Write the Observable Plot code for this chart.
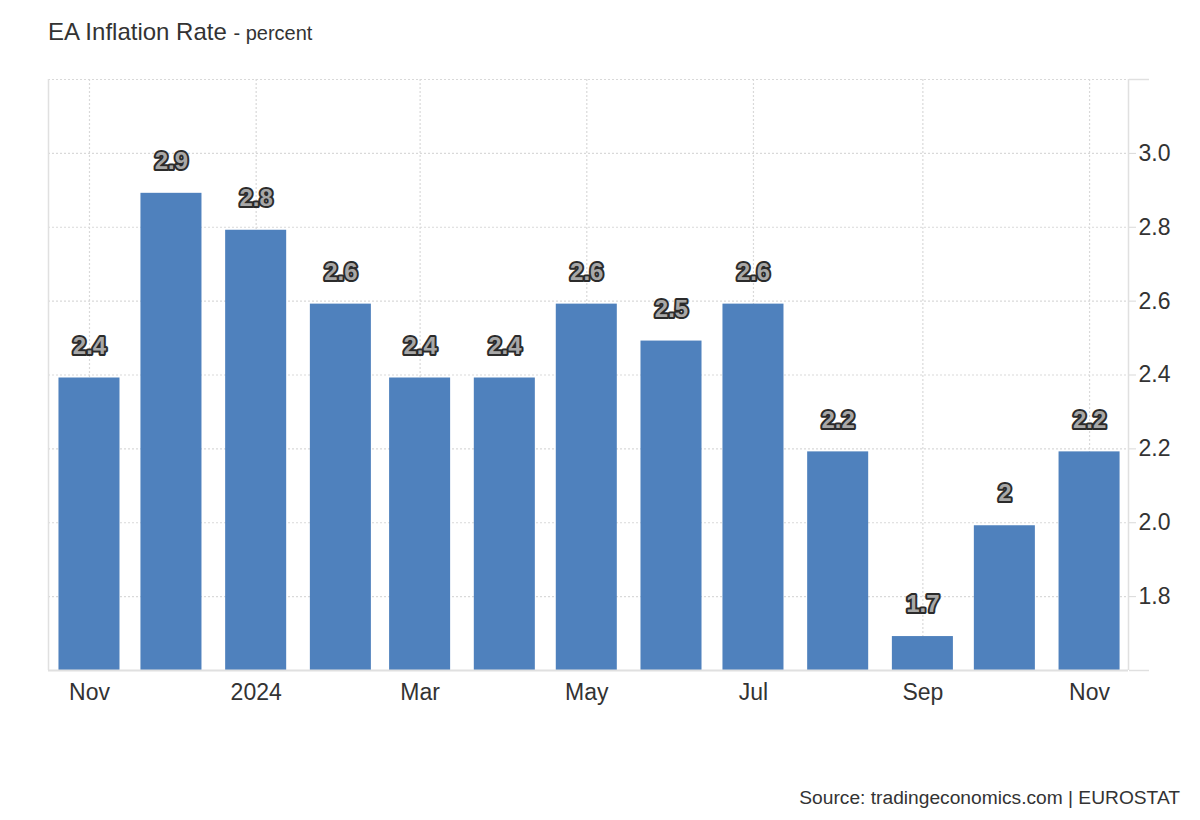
<!DOCTYPE html>
<html>
<head>
<meta charset="utf-8">
<script src="https://cdn.jsdelivr.net/npm/d3@7"></script>
<script src="https://cdn.jsdelivr.net/npm/@observablehq/plot@0.6"></script>
<style>
  html, body { margin: 0; padding: 0; background: #fff; }
  body { width: 1200px; height: 820px; position: relative; font-family: "Liberation Sans", Arial, sans-serif; }
  #title { position: absolute; left: 48px; top: 20px; font-size: 24px; line-height: 1; color: #333; white-space: nowrap; }
  #title span { font-size: 20px; }
  #chart { position: absolute; left: 0; top: 50px; }
  #source { position: absolute; right: 20px; top: 788px; font-size: 19.2px; line-height: 1; color: #333; }
</style>
</head>
<body>
<div id="title">EA Inflation Rate <span>- percent</span></div>
<div id="chart"></div>
<div id="source">Source: tradingeconomics.com | EUROSTAT</div>
<script>
const months = ["2023-11-01","2023-12-01","2024-01-01","2024-02-01","2024-03-01","2024-04-01","2024-05-01","2024-06-01","2024-07-01","2024-08-01","2024-09-01","2024-10-01","2024-11-01"];
const values = [2.4, 2.9, 2.8, 2.6, 2.4, 2.4, 2.6, 2.5, 2.6, 2.2, 1.7, 2.0, 2.2];
const xTickDates = ["2023-11-01","2024-01-01","2024-03-01","2024-05-01","2024-07-01","2024-09-01","2024-11-01"];
const xTickLabels = ["Nov","2024","Mar","May","Jul","Sep","Nov"];
const yTicks = [1.8, 2.0, 2.2, 2.4, 2.6, 2.8, 3.0];
const yGrid = [1.8, 2.0, 2.2, 2.4, 2.6, 2.8, 3.0, 3.2];

const data = months.map((m, i) => ({date: new Date(m + "T00:00:00Z"), value: values[i]}));
const tickDates = xTickDates.map(s => new Date(s + "T00:00:00Z"));
const xDomain = [new Date("2023-10-17T00:00:00Z"), new Date("2024-11-15T06:00:00Z")];
const yDomain = [1.6, 3.2];
const halfWidthHours = 268;
const gridColor = "#d9d9d9";

const chart = Plot.plot({
  width: 1200,
  height: 670,
  marginLeft: 48,
  marginRight: 72,
  marginTop: 29,
  marginBottom: 50,
  style: {fontFamily: "Liberation Sans, Arial, sans-serif", color: "#333", background: "#fff"},
  x: {type: "utc", domain: xDomain},
  y: {domain: yDomain},
  marks: [
    Plot.ruleY(yGrid, {y: d => d, stroke: gridColor, strokeWidth: 1.2, strokeDasharray: "2,2"}),
    Plot.ruleX(tickDates, {x: d => d, stroke: gridColor, strokeWidth: 1.2, strokeDasharray: "2,2"}),
    Plot.ruleX([xDomain[0], xDomain[1]], {x: d => d, stroke: "#e0e0e0", strokeWidth: 1.5}),
    Plot.rect(data, {
      x1: d => d3.utcHour.offset(d.date, -halfWidthHours),
      x2: d => d3.utcHour.offset(d.date, halfWidthHours),
      y1: yDomain[0],
      y2: "value",
      insetTop: 3,
      fill: "#4f81bd"
    }),
    Plot.ruleY([yDomain[0]], {stroke: "#e0e0e0", strokeWidth: 2}),
    Plot.text(data, {
      x: "date", y: "value", text: d => String(d.value), dy: -29,
      fontSize: 24, fontWeight: "bold", fill: "#a8a8a8", stroke: "#2b2b2b",
      strokeWidth: 4, paintOrder: "stroke", strokeLinejoin: "round"
    }),
    Plot.axisX({
      ticks: tickDates,
      tickFormat: d => xTickLabels[tickDates.findIndex(t => +t === +d)],
      tickSize: 0, tickPadding: 13, fontSize: 23, fill: "#333", label: null
    }),
    Plot.axisY({
      anchor: "right", ticks: yTicks, tickFormat: d3.format(".1f"),
      tickSize: 7, tickPadding: 3, stroke: gridColor, fontSize: 23, fill: "#333", label: null
    }),
    Plot.axisY({
      anchor: "right", ticks: yDomain, tickFormat: () => "",
      tickSize: 20, stroke: "#e0e0e0", strokeWidth: 1.5, label: null
    })
  ]
});
document.getElementById("chart").appendChild(chart);
</script>
</body>
</html>
